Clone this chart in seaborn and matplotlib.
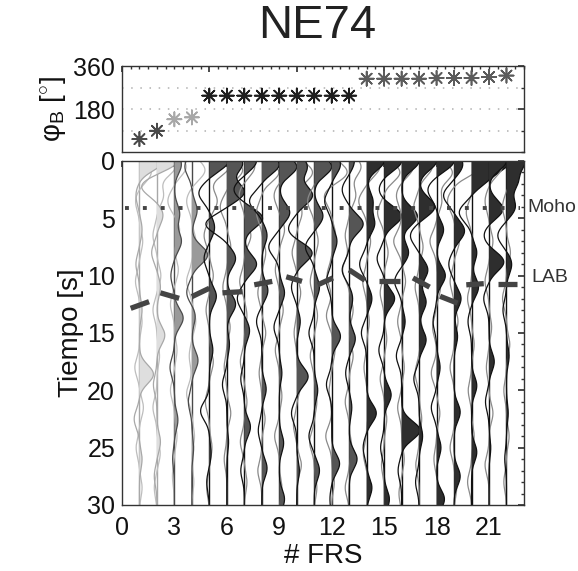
import numpy as np
import pandas as pd
import matplotlib
matplotlib.use("Agg")
import matplotlib.pyplot as plt
import seaborn as sns
from matplotlib.ticker import MultipleLocator

sns.set_theme(style="white")
plt.rcParams["font.family"] = ["Liberation Sans", "DejaVu Sans"]
plt.rcParams["mathtext.fontset"] = "custom"
plt.rcParams["mathtext.rm"] = "Liberation Sans"
plt.rcParams["mathtext.it"] = "Liberation Sans:italic"

station = "NE74"

# back azimuth of each receiver function
frs = list(range(1, 23))
phi_b = [54, 89, 137, 145,
         236, 236, 236, 236, 236, 236, 236, 236, 236,
         307, 307, 307, 307, 310, 310, 310, 314, 320]
group = ["a"] * 2 + ["b"] * 2 + ["c"] * 9 + ["d"] * 9

marker_color = {"a": "#4a4a4a", "b": "#a8a8a8", "c": "#1e1e1e", "d": "#5c5c5c"}
fill_color = {"a": "#dedede", "b": "#9a9a9a", "c": "#555555", "d": "#2e2e2e"}
line_color = {"a": "#a8a8a8", "b": "#4a4a4a", "c": "#111111", "d": "#111111"}
second_color = {"a": "#bdbdbd", "b": "#bdbdbd", "c": "#8a8a8a", "d": "#8a8a8a"}

# radial pulses (time s, amplitude) read for each trace
rad_pulses = [
    [(0, 1.4), (3, -0.2), (6, 0.15), (9, -0.2), (13, 0.15), (18.6, 0.8), (22.5, -0.3), (26, 0.15)],
    [(0, 1.2), (2.2, -0.9), (4.7, 0.35), (8, -0.3), (11, 0.2), (15.2, 0.45), (19.5, -0.2), (24.5, 0.2), (27.5, -0.15)],
    [(0.3, 0.4), (4.6, 0.3), (7, 0.4), (10, -0.2), (13.7, 0.5), (18, -0.25), (22.6, 0.2), (26, -0.1)],
    [(0.5, -0.4), (4.3, 0.3), (8.2, 0.9), (11.5, -0.3), (13.5, 0.2), (17.4, 0.35), (21, -0.2), (25, 0.1)],
    [(0, 1.1), (2.8, -0.6), (5.8, 0.3), (8.5, -0.3), (11.8, 0.4), (16.5, 0.2), (21.8, -0.5), (25.5, 0.1), (28, -0.15)],
    [(0.2, 0.9), (2.7, 1.0), (5.5, -1.2), (8.5, 0.5), (12.5, 0.5), (16, 0.15), (19.5, -0.25), (24.5, 0.1)],
    [(0, 0.7), (2.5, -0.6), (5, 1.05), (9, 0.7), (12, -0.4), (14.8, 0.3), (19, -0.2), (23.2, 0.35), (27, -0.2)],
    [(0.3, 1.0), (3.5, -0.7), (6.5, 0.3), (11.3, 0.35), (14, -0.3), (19.9, 0.25), (23.5, -0.2), (26.8, 0.3)],
    [(0.5, 1.0), (4.5, 0.6), (7.5, -0.6), (11.5, 0.3), (14.5, -0.3), (18.5, 0.15), (24.6, 0.25), (29.5, 0.3)],
    [(0.5, 0.6), (3, 0.9), (6, -0.5), (8, 0.9), (11, -0.3), (14, 0.2), (18.8, 0.65), (22, -0.3), (27, 0.15)],
    [(0.5, 1.0), (4.8, 0.5), (7.5, -0.5), (11, 0.3), (15, -0.3), (20, 0.2), (24, -0.3), (27, 0.3)],
    [(0.3, 0.5), (3.5, -0.4), (7, 0.3), (10.5, -0.3), (15.3, 0.5), (19.5, -0.3), (26.4, 0.45), (29.5, -0.1)],
    [(0, 0.3), (2.5, -0.4), (5.5, 0.8), (9.5, -0.4), (12, 0.2), (15.5, 0.35), (18.5, -0.2), (21.5, 0.15), (26, 0.45)],
    [(0, 1.0), (3.5, 0.35), (5.5, 0.45), (9, -0.4), (12, 0.3), (15, -0.3), (22, 0.55), (25, -0.2), (28.5, 0.3)],
    [(0, 1.0), (2.5, -0.3), (4.8, 1.0), (8.5, -0.4), (12, 0.6), (16.5, -0.3), (20.4, 0.4), (25, -0.2), (29.5, 0.3)],
    [(0, 1.0), (4.8, 0.9), (8, 0.4), (10.5, -0.4), (14, 0.2), (17, -0.3), (23.5, 1.05), (27, -0.2)],
    [(0, 1.0), (4, 0.9), (6.5, -0.5), (9.5, 0.5), (12.3, 0.4), (15.6, 0.4), (19, -0.3), (24, 0.2), (28, -0.2)],
    [(0, 1.0), (2.5, -0.5), (6, 0.4), (10, 0.5), (14, -0.2), (18, 0.2), (21.5, -0.3), (25, 0.25), (29.5, 0.45)],
    [(0.3, 0.5), (3, -0.6), (6.1, 0.6), (9, -0.3), (12, 0.4), (15.3, 0.2), (21.9, 0.35), (27.5, 0.35)],
    [(0, 2.0), (1.5, 0.8), (4.5, -0.7), (8, 0.3), (11, 0.4), (14, -0.2), (19.6, 0.3), (25.4, 0.3)],
    [(0, 1.0), (4.2, 0.8), (6.5, -0.3), (8.8, 0.85), (12, -0.3), (17.5, 0.3), (21, -0.2), (25, 0.1)],
    [(0, 1.0), (1.8, 0.6), (4, 0.5), (6.5, -0.5), (9, 0.3), (13, -0.2), (17, 0.15), (22, 0.1), (26, -0.1)],
]

# second (grey, unfilled) component
sec_pulses = [
    [(1.0, 0.9), (3.5, -0.3), (7.0, 0.25), (10.5, -0.3), (14.0, 0.2), (18.0, -0.35), (21.5, 0.3), (25.0, -0.25), (28.5, 0.2)],
    [(0.5, 1.4), (3.0, 0.5), (6.5, -0.3), (10.0, 0.3), (13.0, -0.3), (17.0, 0.2), (21.5, -0.3), (25.5, 0.25), (28.5, -0.2)],
    [(0.5, 0.9), (3.5, -0.5), (6.0, 0.4), (9.5, 0.3), (12.5, -0.3), (16.5, 0.2), (20.0, -0.3), (24.0, 0.2), (27.5, -0.15)],
    [(0.8, 1.0), (3.5, -0.4), (7.0, 0.3), (10.5, -0.4), (14.0, 0.3), (17.0, -0.2), (20.3, -0.4), (24.0, 0.2), (28.0, 0.15)],
    [(0.5, 1.5), (3.5, 0.6), (6.5, -0.4), (10.0, 0.3), (13.0, -0.25), (17.5, 0.3), (21.0, -0.3), (25.0, 0.2), (28.5, -0.2)],
    [(0.8, 1.2), (4.0, -0.5), (7.5, 0.3), (11.0, -0.3), (14.5, 0.25), (18.0, -0.2), (22.0, 0.3), (26.0, -0.2)],
    [(0.5, 0.8), (3.0, -0.4), (6.5, 0.5), (10.5, -0.35), (13.5, 0.2), (17.5, -0.3), (21.0, 0.2), (24.5, -0.3), (28.0, 0.2)],
    [(1.0, 1.3), (4.5, -0.4), (8.0, 0.3), (11.5, -0.3), (15.0, 0.3), (18.5, -0.2), (22.5, 0.25), (27.0, -0.3)],
    [(0.5, 1.0), (3.0, -0.4), (6.0, 0.4), (9.5, -0.3), (13.0, 0.3), (16.5, -0.3), (20.5, 0.2), (24.0, -0.35), (28.5, 0.2)],
    [(1.0, 1.2), (4.5, 0.4), (8.0, -0.35), (11.5, 0.3), (15.0, -0.2), (19.5, 0.3), (23.0, -0.25), (26.5, 0.35)],
    [(0.5, 0.8), (3.5, -0.5), (7.0, 0.3), (10.5, -0.3), (13.5, 0.25), (17.0, -0.3), (21.0, 0.2), (24.5, -0.35), (28.5, 0.2)],
    [(1.0, 1.2), (3.0, -0.6), (6.5, 0.3), (10.0, -0.35), (13.5, -0.4), (16.5, 0.25), (20.0, -0.2), (24.0, -0.45), (28.0, 0.2)],
    [(0.5, 0.9), (3.0, 0.5), (6.5, -0.3), (9.5, -0.5), (13.0, 0.3), (17.0, 0.3), (21.0, -0.3), (25.0, 0.2), (28.5, -0.3)],
    [(0.5, 1.0), (3.5, -0.6), (7.0, 0.3), (10.5, -0.3), (14.0, 0.2), (18.0, -0.2), (21.5, 0.2), (25.5, -0.25), (28.5, 0.2)],
    [(1.0, 1.2), (4.5, -0.5), (8.0, 0.3), (11.5, -0.3), (15.5, 0.2), (19.0, -0.3), (22.5, 0.2), (26.5, -0.2)],
    [(0.5, 0.9), (3.0, -0.4), (7.0, -0.6), (10.5, 0.3), (14.0, -0.3), (18.0, 0.2), (21.5, -0.3), (26.0, 0.2), (29.0, -0.2)],
    [(0.5, 1.0), (4.0, -0.4), (7.5, 0.3), (11.0, -0.3), (15.0, 0.3), (18.5, -0.3), (22.5, 0.2), (26.5, -0.25)],
    [(1.0, 1.2), (3.5, 0.4), (7.0, -0.5), (11.0, 0.3), (14.5, -0.3), (18.5, -0.4), (22.0, 0.25), (26.0, -0.2), (29.0, 0.2)],
    [(0.5, 2.0), (3.5, -0.5), (7.0, 0.4), (10.5, -0.3), (14.0, 0.3), (18.0, -0.3), (21.5, 0.2), (25.0, -0.3), (28.5, 0.2)],
    [(1.0, 1.0), (4.5, -0.4), (8.0, 0.3), (12.0, -0.3), (16.0, 0.2), (20.0, -0.25), (24.0, 0.2), (28.0, -0.3)],
    [(0.5, 1.0), (3.5, -0.3), (7.0, 0.3), (10.5, -0.3), (14.5, 0.2), (18.0, -0.2), (22.0, 0.3), (26.5, -0.3)],
    [(1.0, 0.6), (4.0, -0.3), (8.0, 0.3), (12.0, -0.3), (16.0, 0.25), (20.0, -0.2), (24.0, 0.2), (28.0, -0.2)],
]
pulse_width = 0.8
sec_scale = 0.75

# interfaces
moho_x = [0.2, 22.8]
moho_t = [4.1, 4.1]
lab_x = [0.5, 1.55, 2.2, 3.27, 4.0, 5.0, 5.75, 6.9, 7.57, 8.6, 9.4, 10.3, 11.2, 12.07,
         13.0, 13.9, 14.7, 15.9, 16.65, 17.6, 18.2, 19.2, 19.7, 20.7, 21.5, 22.6]
lab_t = [12.85, 12.27, 11.5, 11.98, 11.83, 11.1, 11.5, 11.4, 10.8, 10.5, 10.1, 10.5, 10.8, 10.2,
         9.5, 10.4, 10.5, 10.5, 10.2, 11.0, 11.8, 12.4, 10.8, 10.7, 10.7, 10.7]

t = np.linspace(0, 30, 901)


def wave(pulses, scale=1.0):
    w = np.zeros_like(t)
    for tc, a in pulses:
        w += scale * a * np.exp(-0.5 * ((t - tc) / pulse_width) ** 2)
    return w


fig = plt.figure(figsize=(5.78, 5.71), dpi=100)
ax_top = fig.add_axes([0.211, 0.7338, 0.6955, 0.1506])
ax = fig.add_axes([0.211, 0.1156, 0.6955, 0.6025])

# --- top panel: back azimuths
df = pd.DataFrame({"frs": frs, "phi": phi_b, "grp": group})
sns.scatterplot(data=df, x="frs", y="phi", hue="grp", palette=marker_color,
                marker=(8, 2, 0), s=105, linewidth=1.2, legend=False, ax=ax_top, zorder=3)
ax_top.set_xlim(0, 23)
ax_top.set_ylim(0, 360)
ax_top.set_yticks([180, 360])
ax_top.yaxis.set_minor_locator(MultipleLocator(90))
ax_top.xaxis.set_major_locator(MultipleLocator(5))
ax_top.xaxis.set_minor_locator(MultipleLocator(0.5))
ax_top.set_xticklabels([])
for g in [90, 180, 270]:
    ax_top.axhline(g, color="#b0b0b0", lw=1.1, ls=(0, (1, 5)), zorder=1)
ax_top.set_xlabel("")
ax_top.set_ylabel(r"φ$_\mathrm{B}$ [$^{\circ}$]", fontsize=20, color="#111111", labelpad=4)

# --- bottom panel: receiver functions
for i, x0 in enumerate(frs):
    g = group[i]
    ax.plot([x0, x0], [0, 30], color=line_color[g], lw=1.0, zorder=2)
    ws = wave(sec_pulses[i], sec_scale)
    ax.plot(x0 + ws, t, color=second_color[g], lw=0.9, zorder=2)
    wr = wave(rad_pulses[i])
    ax.fill_betweenx(t, x0, x0 + wr, where=wr > 0, interpolate=True,
                     color=fill_color[g], lw=0, zorder=2)
    ax.plot(x0 + wr, t, color=line_color[g], lw=0.9, zorder=2)

ax.plot(moho_x, moho_t, color="#444444", lw=2.8, ls=(0, (1, 3.6)),
        solid_capstyle="butt", dash_capstyle="butt", zorder=4)
for k in range(0, len(lab_x), 2):
    ax.plot(lab_x[k:k + 2], lab_t[k:k + 2], color="#444444", lw=3.8,
            solid_capstyle="butt", zorder=4)

ax.text(23.2, 4.1, "Moho", fontsize=14, color="#333333", va="center", ha="left", clip_on=False)
ax.text(23.45, 10.2, "LAB", fontsize=14, color="#333333", va="center", ha="left", clip_on=False)

ax.set_xlim(0, 23)
ax.set_ylim(30, 0)
ax.set_xticks(range(0, 22, 3))
ax.set_yticks(range(0, 31, 5))
ax.yaxis.set_minor_locator(MultipleLocator(1))
ax.set_xlabel("# FRS", fontsize=20, color="#111111", labelpad=2)
ax.set_ylabel("Tiempo [s]", fontsize=20, color="#111111", labelpad=2)

for a in (ax_top, ax):
    for s in a.spines.values():
        s.set_color("#333333")
        s.set_linewidth(1.0)
    a.tick_params(which="both", direction="in", top=True, right=True,
                  colors="#333333", labelcolor="#111111", labelsize=18)
    a.tick_params(which="major", length=4)
    a.tick_params(which="minor", length=2)
ax.tick_params(axis="x", pad=8)
ax.tick_params(axis="y", pad=5)
ax_top.tick_params(axis="y", pad=5)

fig.text(0.548, 0.954, station, fontsize=34, color="#222222", ha="center", va="center")

fig.savefig("out.png", dpi=100)
